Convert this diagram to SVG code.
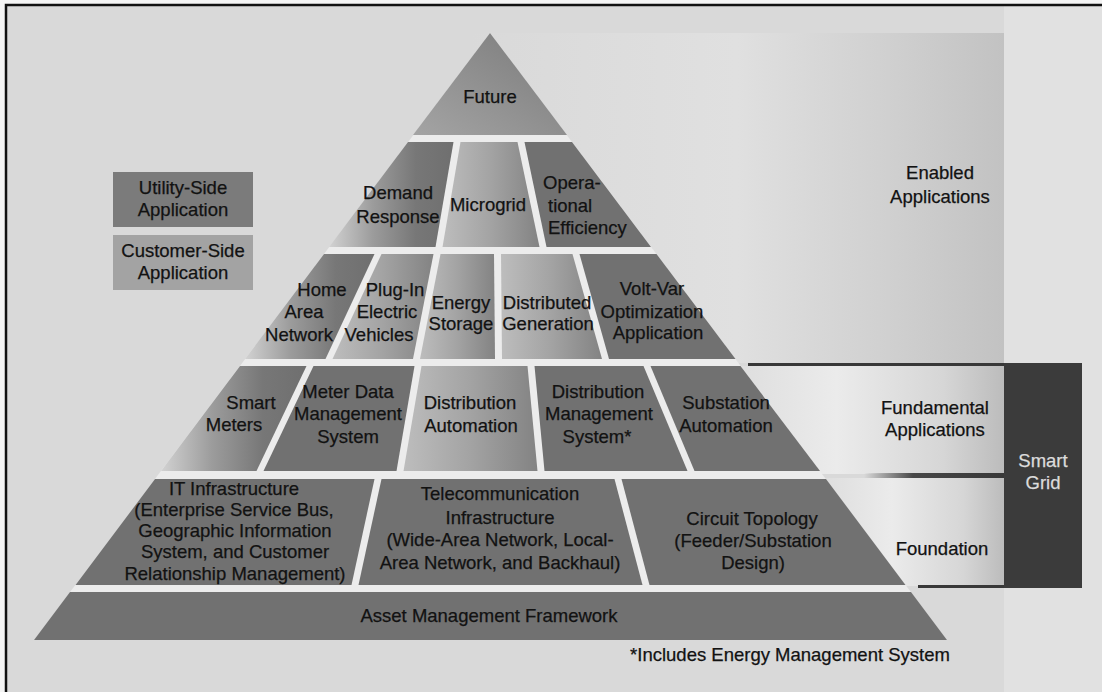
<svg xmlns="http://www.w3.org/2000/svg" width="1102" height="692" viewBox="0 0 1102 692">
<defs>
<style>
text { font-family: "Liberation Sans", Arial, Helvetica, sans-serif; font-size: 18.5px; fill: #121212; stroke: #121212; stroke-width: 0.25px; }
.c { text-anchor: middle; }
.s { text-anchor: start; }
.dark { fill: #717171; }
.fade { fill: url(#gFade); }
.light { fill: url(#gLight); }
.sg { fill: #dcdcdc; stroke: #dcdcdc; }
.rule { stroke: #383838; stroke-width: 3; fill: none; }
</style>
<linearGradient id="gFade" x1="0" y1="0" x2="1" y2="0">
<stop offset="0" stop-color="#d2d2d2"/>
<stop offset="0.35" stop-color="#9c9c9c"/>
<stop offset="0.7" stop-color="#777777"/>
<stop offset="1" stop-color="#6f6f6f"/>
</linearGradient>
<linearGradient id="gLight" x1="0" y1="0" x2="1" y2="0">
<stop offset="0" stop-color="#bdbdbd"/>
<stop offset="0.5" stop-color="#a3a3a3"/>
<stop offset="1" stop-color="#838383"/>
</linearGradient>
<linearGradient id="gFuture" x1="0" y1="1" x2="1" y2="0">
<stop offset="0" stop-color="#a4a4a4"/>
<stop offset="1" stop-color="#7a7a7a"/>
</linearGradient>
<linearGradient id="gPanel" x1="0" y1="0" x2="1" y2="0">
<stop offset="0" stop-color="#d9d9d9"/>
<stop offset="0.5" stop-color="#e0e0e0"/>
<stop offset="0.8" stop-color="#cfcfcf"/>
<stop offset="1" stop-color="#c2c2c2"/>
</linearGradient>
<linearGradient id="gPanel2" x1="0" y1="0" x2="1" y2="0">
<stop offset="0" stop-color="#d9d9d9"/>
<stop offset="0.45" stop-color="#ebebeb"/>
<stop offset="0.8" stop-color="#d6d6d6"/>
<stop offset="1" stop-color="#bcbcbc"/>
</linearGradient>
<linearGradient id="gBar" x1="0" y1="0" x2="1" y2="0">
<stop offset="0" stop-color="#383838" stop-opacity="0"/>
<stop offset="0.35" stop-color="#383838" stop-opacity="0.9"/>
<stop offset="1" stop-color="#383838"/>
</linearGradient>
</defs>

<!-- page -->
<rect width="1102" height="692" fill="#f4f4f4"/>
<rect x="6" y="5" width="1096" height="687" fill="#d9d9d9"/>
<rect x="1004" y="5" width="98" height="687" fill="#e1e1e1"/>
<path d="M6 692 V5 H1102" fill="none" stroke="#111" stroke-width="2.5"/>

<!-- right-side panels -->
<g id="panel-enabled">
<rect x="470" y="33" width="534" height="330" fill="url(#gPanel)"/>
<text class="c" x="940" y="179">Enabled<tspan x="940" dy="24">Applications</tspan></text>
</g>
<g id="panel-fundamental">
<rect x="700" y="366" width="304" height="108" fill="url(#gPanel2)"/>
<text class="c" x="935" y="414">Fundamental<tspan x="935" dy="22">Applications</tspan></text>
</g>
<g id="panel-foundation">
<rect x="800" y="478" width="204" height="108" fill="url(#gPanel2)"/>
<text class="c" x="942" y="555">Foundation</text>
</g>
<g id="smart-grid">
<rect x="1004" y="363" width="78" height="225" fill="#3b3b3b"/>
<text class="c sg" x="1043" y="467">Smart<tspan x="1043" dy="22">Grid</tspan></text>
</g>

<g id="connectors">
<line class="rule" x1="748" y1="364.5" x2="1004" y2="364.5"/>
<rect x="864" y="473" width="140" height="5" fill="url(#gBar)"/>
<line class="rule" x1="918" y1="586.5" x2="1004" y2="586.5"/>
</g>

<!-- pyramid underlay (white gaps) -->
<polygon points="490,33 947,640 34,640" fill="#ececec"/>

<!-- legend -->
<g id="legend-utility">
<rect x="113" y="172" width="140" height="55" fill="#7b7b7b"/>
<text class="c" x="183" y="194">Utility-Side<tspan x="183" dy="22">Application</tspan></text>
</g>
<g id="legend-customer">
<rect x="113" y="235" width="140" height="55" fill="#a3a3a3"/>
<text class="c" x="183" y="257">Customer-Side<tspan x="183" dy="22">Application</tspan></text>
</g>

<!-- row 1 -->
<g id="future">
<polygon points="490,33 567,135 413,135" fill="url(#gFuture)"/>
<text class="c" x="490" y="103">Future</text>
</g>

<!-- row 2 -->
<g id="demand-response">
<polygon class="fade" points="408,142 453.5,142 435.5,247 329,247"/>
<text class="c" x="398" y="199">Demand<tspan x="398" dy="24">Response</tspan></text>
</g>
<g id="microgrid">
<polygon class="light" points="460.5,142 517.5,142 539.5,247 442.5,247"/>
<text class="c" x="488" y="211">Microgrid</text>
</g>
<g id="operational-efficiency">
<polygon class="dark" points="524.5,142 572,142 651,247 546.5,247"/>
<text class="s" x="543" y="189">Opera-<tspan x="548" dy="23">tional</tspan><tspan x="548" dy="22">Efficiency</tspan></text>
</g>

<!-- row 3 -->
<g id="home-area-network">
<polygon class="fade" points="324,254 374.5,254 325.5,359 245,359"/>
<text class="c" x="322" y="296">Home<tspan x="304" dy="22">Area</tspan><tspan x="299" dy="23">Network</tspan></text>
</g>
<g id="plug-in-ev">
<polygon class="light" points="381.5,254 433.5,254 413,359 332.5,359"/>
<text class="c" x="395" y="296">Plug-In<tspan x="387" dy="22">Electric</tspan><tspan x="379" dy="23">Vehicles</tspan></text>
</g>
<g id="energy-storage">
<polygon class="light" points="440.5,254 494,254 495,359 420,359"/>
<text class="c" x="461" y="309">Energy<tspan x="461" dy="21">Storage</tspan></text>
</g>
<g id="distributed-generation">
<polygon class="light" points="501,254 572.5,254 602,359 502,359"/>
<text class="c" x="547" y="309">Distributed<tspan x="548" dy="21">Generation</tspan></text>
</g>
<g id="volt-var">
<polygon class="dark" points="579.5,254 656.5,254 735.5,359 609,359"/>
<text class="c" x="652" y="295">Volt-Var<tspan x="652" dy="23">Optimization</tspan><tspan x="658" dy="21">Application</tspan></text>
</g>

<!-- row 4 -->
<g id="smart-meters">
<polygon class="fade" points="240,366 306.5,366 256.5,471 161,471"/>
<text class="c" x="251" y="409">Smart<tspan x="234" dy="22">Meters</tspan></text>
</g>
<g id="meter-data-management">
<polygon class="dark" points="313.5,366 414.5,366 396.5,471 263.5,471"/>
<text class="c" x="348" y="398">Meter Data<tspan x="348" dy="22">Management</tspan><tspan x="348" dy="23">System</tspan></text>
</g>
<g id="distribution-automation">
<polygon class="light" points="421.5,366 527.5,366 537.5,471 403.5,471"/>
<text class="c" x="470" y="409">Distribution<tspan x="471" dy="23">Automation</tspan></text>
</g>
<g id="distribution-management">
<polygon class="dark" points="534.5,366 643.5,366 687.5,471 544.5,471"/>
<text class="c" x="598" y="398">Distribution<tspan x="599" dy="22">Management</tspan><tspan x="597" dy="23">System*</tspan></text>
</g>
<g id="substation-automation">
<polygon class="dark" points="650.5,366 740.5,366 820,471 694.5,471"/>
<text class="c" x="726" y="409">Substation<tspan x="726" dy="23">Automation</tspan></text>
</g>

<!-- row 5 -->
<g id="it-infrastructure">
<polygon class="dark" points="155,479 374.5,479 351.5,585 75.5,585"/>
<text class="c" x="234" y="495">IT Infrastructure<tspan x="234" dy="21">(Enterprise Service Bus,</tspan><tspan x="235" dy="21">Geographic Information</tspan><tspan x="235" dy="21">System, and Customer</tspan><tspan x="235" dy="22">Relationship Management)</tspan></text>
</g>
<g id="telecom-infrastructure">
<polygon class="dark" points="381.5,479 614.5,479 642.5,585 358.5,585"/>
<text class="c" x="500" y="500">Telecommunication<tspan x="500" dy="24">Infrastructure</tspan><tspan x="500" dy="22">(Wide-Area Network, Local-</tspan><tspan x="500" dy="23">Area Network, and Backhaul)</tspan></text>
</g>
<g id="circuit-topology">
<polygon class="dark" points="621.5,479 826,479 905.5,585 649.5,585"/>
<text class="c" x="752" y="525">Circuit Topology<tspan x="753" dy="22">(Feeder/Substation</tspan><tspan x="753" dy="22">Design)</tspan></text>
</g>

<!-- row 6 -->
<g id="asset-management">
<polygon class="dark" points="70,592 911,592 947,640 34,640"/>
<text class="c" x="489" y="622">Asset Management Framework</text>
</g>

<g id="footnote">
<text class="c" x="790" y="661">*Includes Energy Management System</text>
</g>
</svg>
